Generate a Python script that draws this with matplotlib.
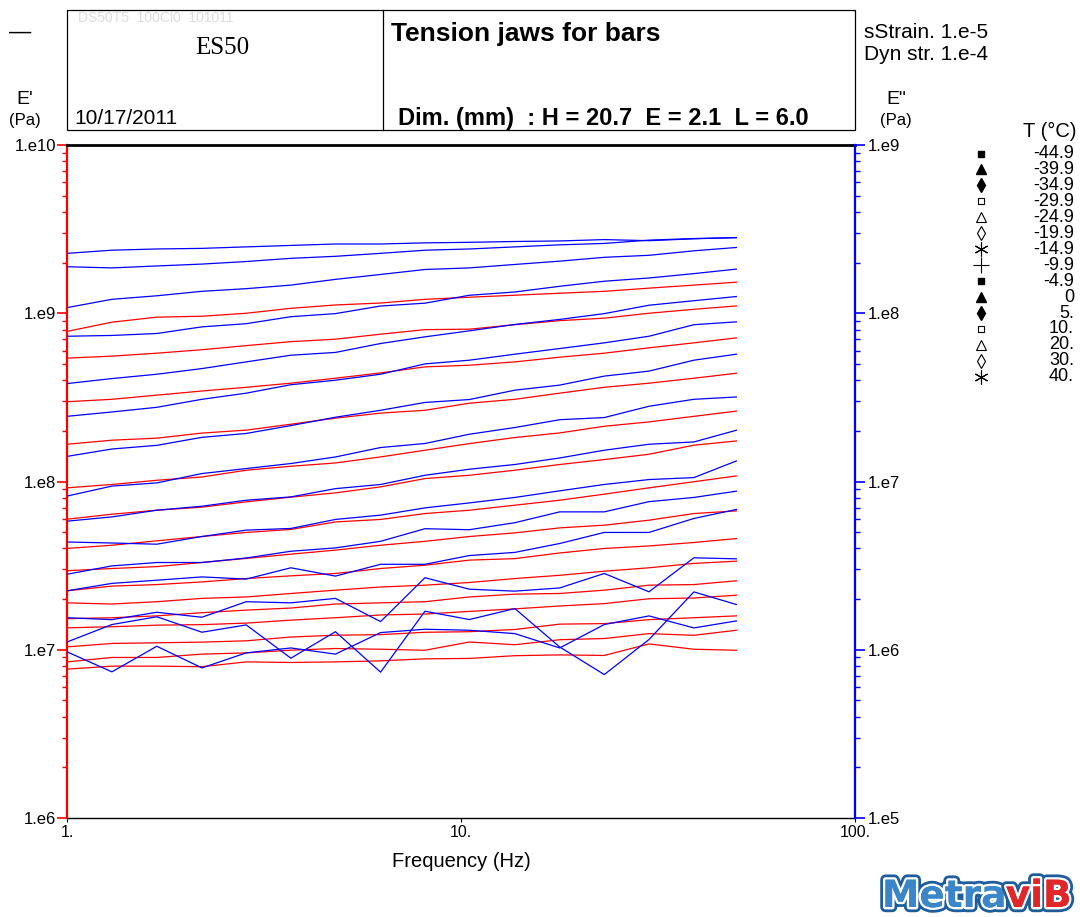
import matplotlib
matplotlib.use("Agg")
import matplotlib.pyplot as plt
import numpy as np
from matplotlib.ticker import FixedLocator, FixedFormatter, LogLocator, NullFormatter, NullLocator
from matplotlib.lines import Line2D
import matplotlib.patheffects as pe

plt.rcParams["font.family"] = ["Liberation Sans", "DejaVu Sans"]

W, H = 1080, 917

# frequency sweep (Hz)
freq = [1.0, 1.3, 1.69, 2.2, 2.85, 3.7, 4.8, 6.25, 8.1, 10.5, 13.7, 17.8, 23.1, 30.0, 39.0, 50.0]

# isotherm temperatures (deg C)
temps = ["-44.9", "-39.9", "-34.9", "-29.9", "-24.9", "-19.9", "-14.9", "-9.9",
         "-4.9", "0", "5.", "10.", "20.", "30.", "40."]

# storage modulus E' (Pa), one list per isotherm
ep01 = np.array([0.78, 0.885, 0.948, 0.96, 1.0, 1.07, 1.12, 1.15, 1.21, 1.245, 1.28, 1.315, 1.35, 1.41, 1.47, 1.53]) * 1e9
ep02 = np.array([5.41, 5.56, 5.79, 6.07, 6.42, 6.78, 7.01, 7.51, 7.99, 8.04, 8.55, 9.04, 9.35, 10.0, 10.56, 11.05]) * 1e8
ep03 = np.array([2.98, 3.08, 3.26, 3.45, 3.63, 3.84, 4.11, 4.42, 4.80, 4.91, 5.14, 5.48, 5.79, 6.23, 6.67, 7.14]) * 1e8
ep04 = np.array([1.665, 1.76, 1.81, 1.94, 2.02, 2.19, 2.38, 2.55, 2.65, 2.92, 3.08, 3.35, 3.63, 3.84, 4.11, 4.40]) * 1e8
ep05 = np.array([0.917, 0.96, 1.017, 1.064, 1.167, 1.232, 1.289, 1.40, 1.534, 1.68, 1.825, 1.944, 2.13, 2.26, 2.44, 2.62]) * 1e8
ep06 = np.array([5.97, 6.39, 6.75, 7.04, 7.57, 8.07, 8.56, 9.29, 10.41, 10.89, 11.67, 12.62, 13.5, 14.52, 16.43, 17.42]) * 1e7
ep07 = np.array([4.00, 4.18, 4.44, 4.71, 4.98, 5.19, 5.75, 5.95, 6.45, 6.75, 7.23, 7.74, 8.41, 9.17, 9.97, 10.79]) * 1e7
ep08 = np.array([2.95, 3.04, 3.12, 3.30, 3.49, 3.70, 3.91, 4.18, 4.41, 4.71, 4.95, 5.30, 5.50, 5.89, 6.45, 6.69]) * 1e7
ep09 = np.array([2.24, 2.39, 2.44, 2.53, 2.65, 2.75, 2.84, 3.04, 3.18, 3.41, 3.48, 3.76, 4.00, 4.14, 4.34, 4.58]) * 1e7
ep10 = np.array([1.90, 1.87, 1.93, 2.02, 2.06, 2.16, 2.26, 2.36, 2.42, 2.51, 2.65, 2.77, 2.93, 3.07, 3.26, 3.36]) * 1e7
ep11 = np.array([1.53, 1.55, 1.59, 1.66, 1.72, 1.77, 1.87, 1.90, 1.93, 2.06, 2.14, 2.16, 2.26, 2.42, 2.44, 2.57]) * 1e7
ep12 = np.array([1.35, 1.37, 1.40, 1.41, 1.44, 1.50, 1.55, 1.61, 1.63, 1.69, 1.75, 1.82, 1.88, 2.01, 2.03, 2.11]) * 1e7
ep13 = np.array([1.04, 1.09, 1.10, 1.11, 1.13, 1.19, 1.22, 1.23, 1.27, 1.28, 1.32, 1.42, 1.43, 1.51, 1.55, 1.59]) * 1e7
ep14 = np.array([0.847, 0.90, 0.90, 0.942, 0.958, 0.994, 1.017, 1.007, 0.993, 1.112, 1.071, 1.147, 1.166, 1.247, 1.219, 1.306]) * 1e7
ep15 = np.array([0.767, 0.799, 0.799, 0.793, 0.847, 0.840, 0.847, 0.859, 0.883, 0.888, 0.922, 0.932, 0.925, 1.083, 1.007, 0.993]) * 1e7

# loss modulus E" (Pa), one list per isotherm
epp01 = np.array([2.27, 2.37, 2.41, 2.43, 2.48, 2.53, 2.58, 2.58, 2.62, 2.64, 2.67, 2.69, 2.74, 2.70, 2.77, 2.82]) * 1e8
epp02 = np.array([1.89, 1.86, 1.91, 1.96, 2.03, 2.12, 2.18, 2.27, 2.37, 2.41, 2.48, 2.55, 2.60, 2.72, 2.78, 2.81]) * 1e8
epp03 = np.array([1.08, 1.21, 1.27, 1.35, 1.40, 1.47, 1.59, 1.70, 1.82, 1.86, 1.95, 2.04, 2.15, 2.21, 2.35, 2.46]) * 1e8
epp04 = np.array([0.730, 0.738, 0.758, 0.830, 0.867, 0.954, 0.995, 1.104, 1.148, 1.279, 1.338, 1.446, 1.55, 1.62, 1.72, 1.83]) * 1e8
epp05 = np.array([0.382, 0.409, 0.434, 0.469, 0.514, 0.563, 0.585, 0.661, 0.724, 0.786, 0.858, 0.919, 0.995, 1.116, 1.187, 1.257]) * 1e8
epp06 = np.array([2.44, 2.59, 2.76, 3.08, 3.35, 3.76, 4.00, 4.34, 5.00, 5.26, 5.71, 6.17, 6.67, 7.30, 8.55, 8.89]) * 1e7
epp07 = np.array([1.41, 1.56, 1.64, 1.83, 1.93, 2.15, 2.41, 2.65, 2.95, 3.07, 3.49, 3.74, 4.23, 4.53, 5.26, 5.71]) * 1e7
epp08 = np.array([0.819, 0.939, 0.981, 1.115, 1.194, 1.279, 1.399, 1.592, 1.682, 1.91, 2.093, 2.329, 2.399, 2.80, 3.08, 3.18]) * 1e7
epp09 = np.array([5.81, 6.16, 6.75, 7.13, 7.74, 8.10, 9.07, 9.60, 10.89, 11.83, 12.62, 13.8, 15.34, 16.65, 17.18, 20.17]) * 1e6
epp10 = np.array([4.37, 4.31, 4.24, 4.71, 5.14, 5.26, 5.95, 6.31, 6.97, 7.46, 8.04, 8.80, 9.60, 10.27, 10.55, 13.25]) * 1e6
epp11 = np.array([2.81, 3.15, 3.30, 3.30, 3.51, 3.85, 4.03, 4.41, 5.24, 5.17, 5.69, 6.60, 6.60, 7.59, 8.04, 8.76]) * 1e6
epp12 = np.array([2.24, 2.48, 2.59, 2.71, 2.63, 3.07, 2.74, 3.22, 3.22, 3.63, 3.79, 4.28, 4.98, 4.98, 6.03, 6.82]) * 1e6
epp13 = np.array([1.55, 1.51, 1.67, 1.56, 1.93, 1.90, 2.02, 1.47, 2.68, 2.29, 2.23, 2.33, 2.84, 2.21, 3.52, 3.47]) * 1e6
epp14 = np.array([1.112, 1.412, 1.571, 1.271, 1.405, 0.891, 1.28, 0.736, 1.694, 1.512, 1.757, 1.039, 0.712, 1.15, 2.207, 1.857]) * 1e6
epp15 = np.array([0.972, 0.739, 1.049, 0.780, 0.958, 1.025, 0.942, 1.265, 1.324, 1.306, 1.247, 1.025, 1.412, 1.589, 1.348, 1.484]) * 1e6

storage = [ep01, ep02, ep03, ep04, ep05, ep06, ep07, ep08, ep09, ep10, ep11, ep12, ep13, ep14, ep15]
loss = [epp01, epp02, epp03, epp04, epp05, epp06, epp07, epp08, epp09, epp10, epp11, epp12, epp13, epp14, epp15]

RED = "#ff0000"
BLUE = "#0000ff"


def fx(x):
    return x / W


def fy(y):
    return 1 - y / H


fig = plt.figure(figsize=(W / 100, H / 100), dpi=100)

# --- main axes: E' on the left (red), E" on the right (blue) ---
ax = fig.add_axes([fx(67), fy(818), fx(855) - fx(67), fy(145) - fy(818)])
ax2 = ax.twinx()

for e in storage:
    ax.plot(freq, e, color=RED, linewidth=0.9)
for e in loss:
    ax2.plot(freq, e, color=BLUE, linewidth=0.9)

ax.set_xscale("log")
ax.set_yscale("log")
ax2.set_yscale("log")
ax.set_xlim(1, 100)
ax.set_ylim(1e6, 1e10)
ax2.set_ylim(1e5, 1e9)

ax.yaxis.set_major_locator(FixedLocator([1e6, 1e7, 1e8, 1e9, 1e10]))
ax.yaxis.set_major_formatter(FixedFormatter(["1.e6", "1.e7", "1.e8", "1.e9", "1.e10"]))
ax.yaxis.set_minor_locator(LogLocator(base=10, subs=np.arange(2, 10), numticks=20))
ax.yaxis.set_minor_formatter(NullFormatter())
ax2.yaxis.set_major_locator(FixedLocator([1e5, 1e6, 1e7, 1e8, 1e9]))
ax2.yaxis.set_major_formatter(FixedFormatter(["1.e5", "1.e6", "1.e7", "1.e8", "1.e9"]))
ax2.yaxis.set_minor_locator(LogLocator(base=10, subs=np.arange(2, 10), numticks=20))
ax2.yaxis.set_minor_formatter(NullFormatter())
ax.xaxis.set_major_locator(FixedLocator([1, 10, 100]))
ax.xaxis.set_major_formatter(FixedFormatter(["1.", "10.", "100."]))
ax.xaxis.set_minor_locator(NullLocator())

ax.tick_params(axis="y", which="major", direction="out", color=RED, length=7, width=1.2,
               labelsize=12, pad=1)
ax.tick_params(axis="y", which="minor", direction="out", color=RED, length=3.5, width=1)
ax2.tick_params(axis="y", which="major", direction="out", color=BLUE, length=7, width=1.2,
                labelsize=12, pad=2)
ax2.tick_params(axis="y", which="minor", direction="out", color=BLUE, length=3.5, width=1)
ax.tick_params(axis="x", which="major", direction="out", length=3, labelsize=11.5, pad=2)

for s in ("left", "right", "top", "bottom"):
    ax2.spines[s].set_visible(False)
ax.spines["right"].set_visible(False)
ax2.spines["right"].set_visible(True)
ax.spines["left"].set_color(RED)
ax.spines["left"].set_linewidth(1.6)
ax2.spines["right"].set_color(BLUE)
ax2.spines["right"].set_linewidth(1.6)
ax.spines["top"].set_linewidth(2.0)
ax.spines["bottom"].set_linewidth(1.0)

ax.set_xlabel("Frequency (Hz)", fontsize=14.5, labelpad=9)

# --- overlay in pixel coordinates for the header, units and legend ---
ov = fig.add_axes([0, 0, 1, 1], zorder=5)
ov.set_xlim(0, W)
ov.set_ylim(H, 0)
ov.axis("off")
ov.patch.set_alpha(0)

# header box
ov.add_patch(plt.Rectangle((67, 10), 788, 120, fill=False, edgecolor="black", linewidth=0.9))
ov.add_line(Line2D([383, 383], [10, 130], color="black", linewidth=0.9))
ov.text(78, 18, "DS50T5  100Cl0  101011", fontsize=10, color="#dcdcdc", va="center")
ov.text(222, 48, "ES50", fontsize=18, family=["Liberation Serif", "DejaVu Serif"], ha="center", va="center")
ov.text(74, 119, "10/17/2011", fontsize=15, ha="left", va="center")
ov.text(391, 34, "Tension jaws for bars", fontsize=19, fontweight="bold", ha="left", va="center")
ov.text(398, 119, "Dim. (mm)  : H = 20.7  E = 2.1  L = 6.0", fontsize=17, fontweight="bold",
        ha="left", va="center")
ov.text(20, 32, "\u2014", fontsize=16, ha="center", va="center")
ov.text(864, 33, "sStrain. 1.e-5", fontsize=15, ha="left", va="center")
ov.text(864, 55, "Dyn str. 1.e-4", fontsize=15, ha="left", va="center")

# axis units
ov.text(25, 100, "E'", fontsize=14, ha="center", va="center")
ov.text(25, 121, "(Pa)", fontsize=12, ha="center", va="center")
ov.text(896, 100, 'E"', fontsize=14, ha="center", va="center")
ov.text(896, 121, "(Pa)", fontsize=12, ha="center", va="center")

# temperature legend
ov.text(1050, 131, "T (\u00b0C)", fontsize=14.5, ha="center", va="center")
markers = [
    dict(marker="s", ms=4.2, mfc="black", mec="black"),
    dict(marker="^", ms=7.5, mfc="black", mec="black"),
    dict(marker="d", ms=7, mfc="black", mec="black"),
    dict(marker="s", ms=4.2, mfc="white", mec="black", mew=0.8),
    dict(marker="^", ms=7.5, mfc="white", mec="black", mew=0.8),
    dict(marker="d", ms=7.5, mfc="white", mec="black", mew=0.8),
    dict(marker=(6, 2, 0), ms=10, mfc="black", mec="black", mew=0.8),
    dict(marker="+", ms=11, mfc="black", mec="black", mew=0.8),
]
for i, t in enumerate(temps):
    y = 153.5 + i * 15.95
    ov.plot([981], [y], linestyle="none", color="black", **markers[i if i < 8 else i - 8])
    ov.text(1074, y, t, fontsize=13, ha="right", va="center")

# Metravib logo
logo_fx = [pe.withStroke(linewidth=7.5, foreground="#1d5d9b"),
           pe.withStroke(linewidth=3.5, foreground="white"), pe.Normal()]
t1 = ov.text(882, 897, "Metra", fontsize=27, fontweight="bold", color="#3a86c8",
             ha="left", va="center", family=["DejaVu Sans"], path_effects=logo_fx)
fig.canvas.draw()
bb = t1.get_window_extent().transformed(ov.transData.inverted())
ov.text(bb.x1 - 1, 897, "viB", fontsize=27, fontweight="bold", color="#e1262a",
        ha="left", va="center", family=["DejaVu Sans"], path_effects=logo_fx)

fig.savefig("out.png", dpi=100)
